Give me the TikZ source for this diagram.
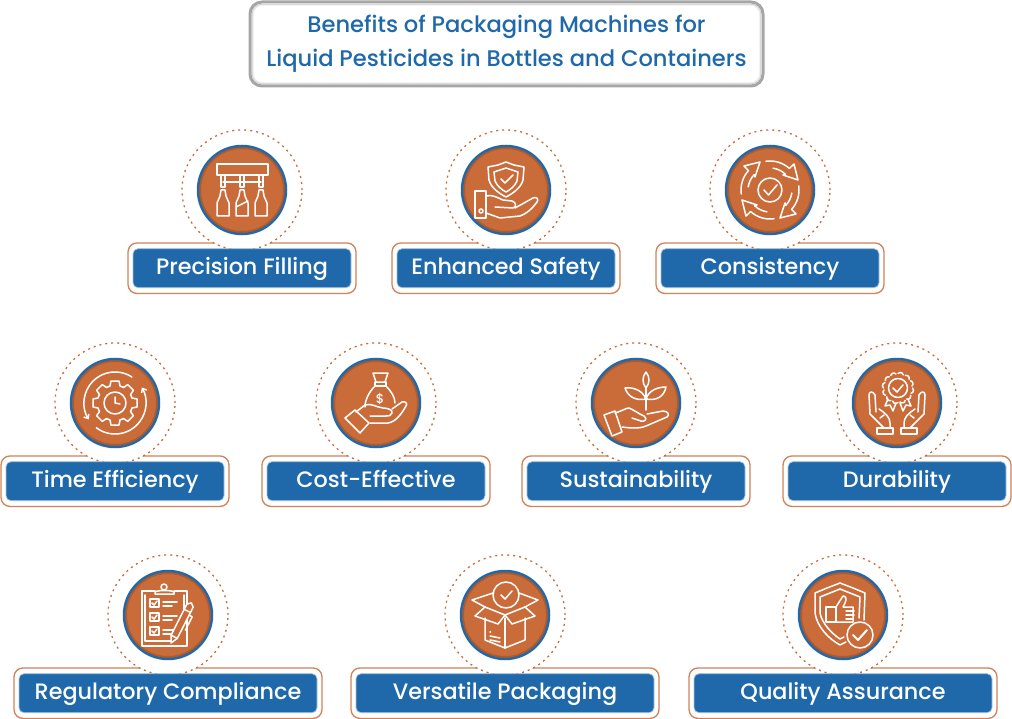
\documentclass[tikz,border=0pt]{standalone}
\usepackage{fontspec}
\setmainfont{Poppins Medium}
\usetikzlibrary{arrows.meta}

\definecolor{cOrange}{HTML}{C96C3A}
\definecolor{cBlue}{HTML}{1F69AB}

\tikzset{
  titlebox/.style={draw=gray!70, line width=3pt, fill=white, rounded corners=12pt, outer sep=0pt,
    minimum width=513pt, minimum height=84pt, align=center, text=cBlue,
    font=\fontsize{22.6}{34}\selectfont},
  labelouter/.style={draw=cOrange!85, line width=1.3pt, fill=white, rounded corners=9pt,
    minimum height=50.5pt},
  labelinner/.style={fill=cBlue, draw=cBlue!40, line width=.7pt, rounded corners=5pt, text=white,
    minimum height=39pt, text height=16pt, text depth=3pt, inner sep=0pt,
    font=\fontsize{22.3}{25}\selectfont},
  ringdots/.style={circle, draw=cOrange, fill=white, line width=1.3pt, dash pattern=on 2pt off 4pt,
    minimum size=120pt, inner sep=0pt},
  disc/.style={circle, draw=cBlue, fill=cOrange, line width=2.5pt, minimum size=88pt, inner sep=0pt},
  iconline/.style={draw=white, line width=1.5pt, line join=round, line cap=round},
  barb/.style={-{Straight Barb[length=3.5pt,width=6pt]}}
}

\newcommand{\iconFill}{
  \draw (-25,-26) rectangle (26,-15);
  \draw (-19,-8) -- (19,-8);
  \foreach \x in {-19,0,19} { % stems and bottles
    \draw[shift={(\x,0)}] (-2,-15) -- (-2,-3) -- (2,-3) -- (2,-15);
    \draw[shift={(\x,0)}] (-2,0) -- (2,0) -- (3,6) -- (6,13) -- (6,26) -- (-6,26) -- (-6,13) -- (-3,6) -- cycle;
  }
  \draw (-6,17) -- (6,11);
}

\newcommand{\iconSafety}{
  \draw (0,-28) -- (8,-25) -- (18,-23) -- (17,-10) .. controls (15,-2) and (6,4) .. (0,7)
     .. controls (-6,4) and (-15,-2) .. (-17,-10) -- (-18,-23) -- (-8,-25) -- cycle;
  \draw (0,-22) -- (12,-18) -- (11,-9) .. controls (9,-4) and (4,0) .. (0,2)
     .. controls (-4,0) and (-9,-4) .. (-11,-9) -- (-12,-18) -- cycle;
  \draw (-5,-11) -- (-1,-7) -- (7,-15);
  \draw (-31,1) rectangle (-20,28);
  \draw (-25,21) circle (2);
  \draw (-20,6) .. controls (-14,4) and (-8,8) .. (-3,10) -- (6,11) .. controls (10,12) and (11,17) .. (7,18) -- (-11,17);
  \draw (9,18) -- (27,8) .. controls (31,6) and (33,10) .. (31,12) .. controls (26,19) and (20,24) .. (14,26)
     -- (-6,28) -- (-20,23);
}

\newcommand{\iconConsist}{
  \draw (0,0) circle (12);
  \draw (-6,0) -- (-1.5,5) -- (7,-5);
  \foreach \a in {0,90,180,270} { % four turning arrows
    \draw[rotate=\a] (-98:29) arc (-98:-48:29) -- (24,-26) -- (28,-10) -- (13,-15) -- (-46:22) arc (-46:-82:22);
  }
}

\newcommand{\iconTime}{
  \foreach \a in {0,45,...,315} { % gear teeth
    \draw[rotate=\a] (17,-5) -- (22,-4) -- (22,4) -- (17,5) arc (16.4:28.6:17.7);
  }
  \draw (0,0) circle (11);
  \draw (0,-6) -- (0,0) -- (5,1);
  \draw[barb] (-57:31) arc (-57:-212:31);
  \draw[barb] (127:31) arc (127:-30:31);
}

\newcommand{\iconCost}{
  \draw (-3,-30) -- (12,-30) -- (9,-21) -- (0,-21) -- cycle;
  \draw (-1,-21) -- (-1,-17) -- (10,-17) -- (10,-21);
  \draw (-1,-17) .. controls (-7,-11) and (-11,-3) .. (-11,4);
  \draw (10,-17) .. controls (15,-12) and (19,-6) .. (19,0);
  \node[text=white, font=\fontsize{13}{13}\selectfont, inner sep=0pt] (dollar) at (4,-4) {\$};
  \draw (-31,15) -- (-21,7) -- (-7,20) -- (-16,30) -- cycle;
  \draw (-20,9) -- (-11,2) .. controls (-5,0) and (0,4) .. (7,5) .. controls (12,5) and (17,7) .. (16,10)
     .. controls (15,13) and (13,13) .. (10,13) -- (-6,13);
  \draw (16,6) -- (26,-1) .. controls (29,-2) and (32,0) .. (30,3) .. controls (26,10) and (20,19) .. (12,20)
     -- (-6,20);
}

\newcommand{\iconSustain}{
  \draw (10,-31) .. controls (14,-26) and (14,-20) .. (10,-15) .. controls (6,-20) and (6,-26) .. (10,-31);
  \draw (10,-15) -- (10,7);
  \draw (-11,-15) .. controls (-5,-16) and (6,-14) .. (10,-4) .. controls (0,-2) and (-8,-6) .. (-11,-15);
  \draw (30,-16) .. controls (24,-16) and (13,-14) .. (10,-4) .. controls (20,-2) and (28,-6) .. (30,-16);
  \draw (-32,12) -- (-21,8) -- (-14,29) -- (-24,33) -- cycle;
  \draw (-21,10) .. controls (-14,8) and (-10,5) .. (-7,5) .. controls (-2,7) and (3,11) .. (8,13)
     .. controls (12,16) and (9,19) .. (5,18) -- (-4,15);
  \draw (11,11) -- (27,8) .. controls (32,8) and (34,12) .. (31,14) -- (10,23)
     .. controls (3,26) and (-6,25) .. (-14,24);
}

\newcommand{\iconDurable}{
  \draw[shift={(1,-15)}] (0,0) circle (9.5);
  \draw (-4,-15) -- (0,-11) -- (6,-18);
  \foreach \a in {0,30,...,330} { % scalloped edge
    \draw[shift={(1,-15)}] (\a:14.5) arc (\a-50:\a+80:3);
  }
  \draw (-9,-4) -- (-12,3) -- (-7,2) -- (-4,8) -- (-1,0);
  \draw (11,-4) -- (14,3) -- (9,2) -- (6,8) -- (3,0);
  \foreach \s in {1,-1} { % pair of hands
    \begin{scope}[xscale=\s]
      \draw (-22,-8) .. controls (-24,-12) and (-28,-12) .. (-28,-8) -- (-27,11) -- (-13,25);
      \draw (-22,-8) -- (-21,9);
      \draw (-18,6) .. controls (-12,10) and (-7,14) .. (-7,20) -- (-7,25);
      \draw (-17,15) -- (-13,12);
      \draw (-20,25) rectangle (-4,31);
    \end{scope}
  }
}

\newcommand{\iconRegul}{
  \draw (-13,-24) -- (-26,-24) -- (-26,31) -- (19,31) -- (19,-24) -- (6,-24);
  \draw (-23,-20) -- (-23,26) -- (3,26);
  \draw (16,-20) -- (16,0);
  \draw (-13,-21) -- (6,-21) -- (6,-23) .. controls (4,-25) and (-11,-25) .. (-13,-23) -- cycle;
  \draw (-4,-28) circle (3);
  \foreach \y in {-16,-2,12} { % check list rows
    \draw[shift={(0,\y)}] (-18,0) rectangle (-9,8);
    \draw[shift={(0,\y)}] (-16,4) -- (-14,6) -- (-11,2);
    \draw[shift={(0,\y)}] (-5,3) -- (9,3) (-5,7) -- (4,7);
  }
  \begin{scope}[shift={(3,28)},rotate=-63]
    \draw[fill=cOrange] (0,0) -- (7,-3.5) -- (42,-3.5) -- (45,0) -- (42,3.5) -- (7,3.5) -- cycle;
    \draw (7,-3.5) -- (7,3.5) (36,-3.5) -- (36,3.5);
    \draw (33,3.5) -- (33,7) -- (18,7);
  \end{scope}
}

\newcommand{\iconVersat}{
  \draw (-20,3) -- (-20,25) -- (0,33) -- (20,25) -- (20,3);
  \draw (0,3) -- (0,33);
  \draw (-20,-8) -- (0,0) -- (20,-8);
  \draw (-20,-8) -- (-30,1) -- (-7,9) -- (0,0) -- (7,9) -- (30,1) -- (20,-8);
  \draw (-12,-22) -- (-33,-15) -- (-20,-8);
  \draw (14,-22) -- (33,-15) -- (20,-8);
  \draw (1,-20) circle (13);
  \draw (-4,-20) -- (0,-16) -- (7,-24);
  \draw (-15,17) -- (-14.5,17);
  \draw (-15,21) -- (-5,23) (-15,25) -- (-5,27);
}

\newcommand{\iconQuality}{
  \draw (-3,-32) -- (10,-27) -- (22,-22) -- (21,5);
  \draw (-3,-32) -- (-16,-27) -- (-28,-22) -- (-28,-2) .. controls (-26,12) and (-14,24) .. (-3,30) -- (3,27);
  \draw (-3,-26) -- (17,-18) -- (16,3);
  \draw (-3,-26) -- (-23,-18) -- (-23,-2) .. controls (-21,8) and (-12,18) .. (-3,24) -- (1,22);
  \draw (-17,-8) rectangle (-7,7);
  \draw (-7,-8) -- (0,-19) .. controls (3,-19) and (4,-16) .. (2,-12) -- (0,-8) -- (10,-8) -- (10,7) -- (-7,7);
  \draw (3,-4) -- (11,-4) (3,0) -- (11,0) (3,4) -- (10,4);
  \draw[fill=cOrange] (17,20) circle (13);
  \draw[line width=2pt] (10,20) -- (15,25) -- (24,15);
}

\begin{document}
\begin{tikzpicture}[x=1pt,y=1pt,yscale=-1]
  \useasboundingbox (0,0) rectangle (1012,719);

  \node[titlebox] (title) at (506.5,44)
    {Benefits of Packaging Machines for\\Liquid Pesticides in Bottles and Containers};
  \draw[gray!35, line width=1.2pt, rounded corners=10pt]
    ([xshift=2.2pt,yshift=-2.2pt]title.south west) rectangle ([xshift=-2.2pt,yshift=2.2pt]title.north east);
  \draw[gray!15, line width=1pt, rounded corners=9pt]
    ([xshift=3.2pt,yshift=-3.2pt]title.south west) rectangle ([xshift=-3.2pt,yshift=3.2pt]title.north east);

  \foreach \nm/\cx/\cy/\bw/\txt in {
      Fill/242/190/228/Precision Filling, Safety/506/190/228/Enhanced Safety, Consist/770/190/228/Consistency,
      Time/115/403/228/Time Efficiency, Cost/376/403/228/Cost-Effective, Sustain/636/403/228/Sustainability,
      Durable/897/403/228/Durability,
      Regul/168/615/308/Regulatory Compliance, Versat/505/615/308/Versatile Packaging, Quality/843/615/308/Quality Assurance} {
    \node[labelouter, minimum width=\bw pt] (outer\nm) at (\cx,\cy+78.2) {};
    \node[ringdots] (ring\nm) at (\cx,\cy) {};
    \node[labelinner, minimum width=\bw pt-10pt] (label\nm) at (\cx,\cy+78.2) {\txt};
    \node[disc] (disc\nm) at (\cx,\cy) {};
    \draw[cOrange!75!black, line width=2pt, opacity=.6] (\cx,\cy) circle (42);
    \begin{scope}[shift={(\cx,\cy)},iconline]
      \csname icon\nm\endcsname
    \end{scope}
  }
\end{tikzpicture}
\end{document}
